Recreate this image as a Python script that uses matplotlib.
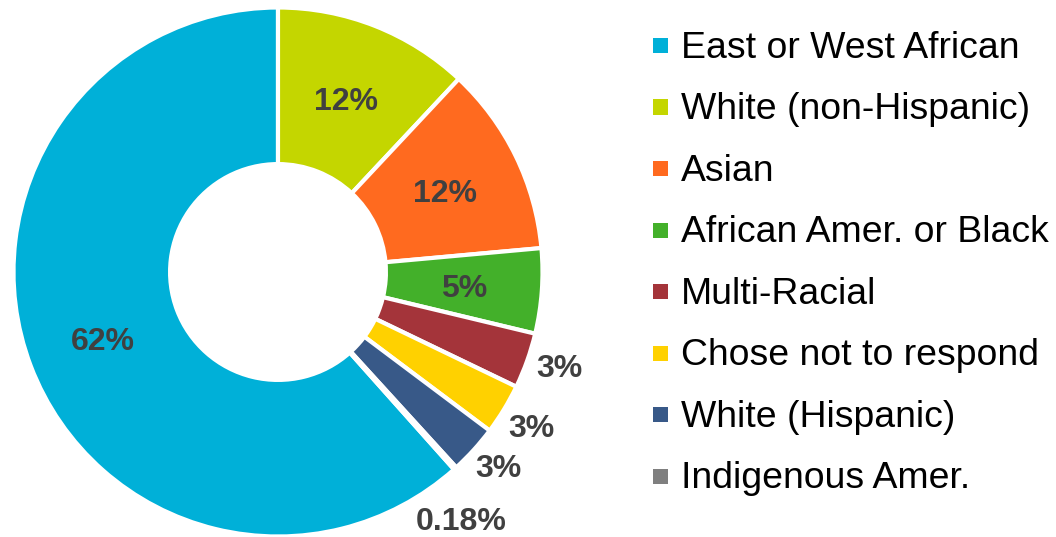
import numpy as np
import matplotlib
matplotlib.use("Agg")
import matplotlib.pyplot as plt
from matplotlib.patches import Rectangle
from matplotlib.transforms import offset_copy

plt.rcParams["font.family"] = ["Liberation Sans", "DejaVu Sans"]

# Data
groups = ["East or West African", "White (non-Hispanic)", "Asian",
          "African Amer. or Black", "Multi-Racial", "Chose not to respond",
          "White (Hispanic)", "Indigenous Amer."]
shares = [61.7, 12.0, 11.6, 5.2, 3.4, 3.1, 3.0, 0.18]
colors = ["#00B0D8", "#C4D600", "#FF6A1F", "#43B02A", "#A4343A",
          "#FFD100", "#385988", "#7F7F7F"]

W, H, DPI = 1056, 537, 100
fig = plt.figure(figsize=(W / DPI, H / DPI), dpi=DPI, facecolor="white")

# donut placement in pixels
cx, cy, R = 278, 272, 264.5
ax = fig.add_axes([(cx - R) / W, (H - cy - R) / H, 2 * R / W, 2 * R / H])

hole = 0.408
total = sum(shares)
wedges, _ = ax.pie(shares, colors=colors, radius=1.0,
                   startangle=90 + 360 * shares[0] / total, counterclock=False,
                   wedgeprops=dict(width=1 - hole, edgecolor="white", linewidth=3))
ax.set_xlim(-1, 1)
ax.set_ylim(-1, 1)
ax.set_aspect("equal")
ax.axis("off")

def fmt(v):
    return f"{v:.0f}%" if v >= 1 else f"{v:.2f}%"

# inside labels for big slices, outside for small ones
label_r = [0.71, 0.704, 0.704, 0.704, 1.12, 1.12, 1.11, 1.16]
angle_nudge = [0, 0, 0, 0, 1.2, 0, 1, -5.5]
txt_tr = offset_copy(ax.transData, fig=fig, x=0, y=-3.5, units="dots")
for i, w in enumerate(wedges):
    mid = np.deg2rad((w.theta1 + w.theta2) / 2 + angle_nudge[i])
    r = label_r[i]
    ax.text(r * np.cos(mid), r * np.sin(mid), fmt(shares[i]),
            ha="center", va="center", fontsize=23, fontweight="bold",
            color="#404040", clip_on=False, transform=txt_tr)

# legend
row0, step = 45.5, 61.5
box = 15
for i, name in enumerate(groups):
    yc = row0 + i * step
    fig.add_artist(Rectangle((653 / W, (H - yc - box / 2) / H), box / W, box / H,
                             transform=fig.transFigure, facecolor=colors[i],
                             edgecolor="none"))
    fig.text(681 / W, (H - (yc + 12.3)) / H, name, fontsize=26.9,
             color="black", ha="left", va="baseline")

fig.savefig("out.png", dpi=DPI, facecolor="white")
